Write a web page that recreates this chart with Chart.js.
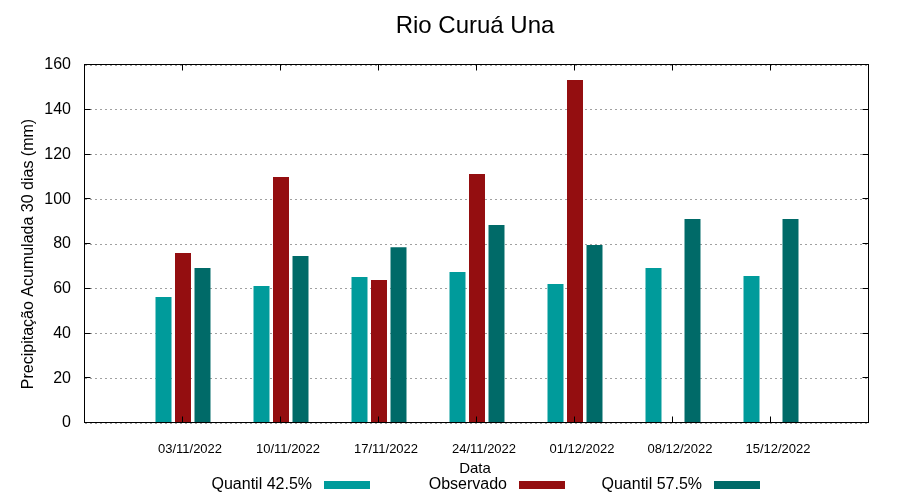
<!DOCTYPE html>
<html><head><meta charset="utf-8">
<script src="https://cdn.jsdelivr.net/npm/chart.js@4/dist/chart.umd.min.js"></script>
<style>html,body{margin:0;padding:0;background:#fff}#wrap{width:900px;height:500px}</style>
</head><body><div id="wrap"><canvas id="c" width="900" height="500"></canvas></div>
<script>
// ---- data ----
const chartTitle = 'Rio Curuá Una';
const xAxisTitle = 'Data';
const yAxisTitle = 'Precipitação Acumulada 30 dias (mm)';
const dates = ['03/11/2022','10/11/2022','17/11/2022','24/11/2022','01/12/2022','08/12/2022','15/12/2022'];
const quantil425 = [56.3, 61.2, 65.2, 67.5, 62.1, 69.3, 65.7];
const observado  = [76.0, 109.9, 63.9, 111.3, 153.3, null, null];
const quantil575 = [69.3, 74.6, 78.6, 88.5, 79.5, 91.2, 91.2];
const seriesNames = ['Quantil 42.5%', 'Observado', 'Quantil 57.5%'];
const yMin = 0, yMax = 160, yStep = 20;

// ---- styles ----
const FONT = '"Liberation Sans", Arial, sans-serif';
const colors = ['#009b9b', '#940e10', '#006a68'];

// pad categories with an empty slot on each side (gnuplot-like x range)
const pad = arr => [null, ...arr, null];
const labels = ['', ...dates, ''];

const framePlugin = {
  id: 'frame',
  afterDraw(chart) {
    const {ctx, chartArea: a, scales: {x, y}} = chart;
    const L = Math.round(a.left) - 0.5, R = Math.round(a.right) - 0.5;
    const T = Math.round(a.top) - 0.5, B = Math.round(a.bottom) - 0.5;
    ctx.save();
    ctx.strokeStyle = '#000';
    ctx.lineWidth = 1;
    ctx.setLineDash([]);
    ctx.strokeRect(L, T, R - L, B - T);
    // inward y ticks on both sides
    ctx.beginPath();
    for (let v = yMin + yStep; v < yMax; v += yStep) {
      const py = Math.round(y.getPixelForValue(v)) - 0.5;
      ctx.moveTo(L, py); ctx.lineTo(L + 6, py);
      ctx.moveTo(R, py); ctx.lineTo(R - 6, py);
    }
    // inward x ticks at top and bottom
    for (let i = 1; i <= dates.length; i++) {
      const px = Math.round(x.getPixelForValue(i)) - 0.5;
      ctx.moveTo(px, T); ctx.lineTo(px, T + 6);
      ctx.moveTo(px, B); ctx.lineTo(px, B - 6);
    }
    ctx.stroke();

    // title
    const cx = (a.left + a.right) / 2 - 2;
    ctx.fillStyle = '#000';
    ctx.textAlign = 'center';
    ctx.textBaseline = 'alphabetic';
    ctx.font = '24px ' + FONT;
    ctx.fillText(chartTitle, cx, 33);
    // x axis title
    ctx.font = '15px ' + FONT;
    ctx.fillText(xAxisTitle, cx, 473);
    // y axis title
    ctx.save();
    ctx.translate(33, 254);
    ctx.rotate(-Math.PI / 2);
    ctx.font = '16px ' + FONT;
    ctx.fillText(yAxisTitle, 0, 0);
    ctx.restore();

    // legend (gnuplot style: text, then sample to the right)
    const sampleLefts = [324, 519, 714];
    ctx.font = '16px ' + FONT;
    ctx.textAlign = 'right';
    chart.data.datasets.forEach((ds, i) => {
      const sx = sampleLefts[i];
      ctx.fillStyle = '#000';
      ctx.fillText(ds.label, sx - 12, 489);
      ctx.fillStyle = ds.backgroundColor;
      ctx.fillRect(sx, 481, 46, 8);
    });
    ctx.restore();
  }
};

const seriesValues = [quantil425, observado, quantil575];

new Chart(document.getElementById('c'), {
  type: 'bar',
  data: {
    labels: labels,
    datasets: seriesValues.map((vals, i) => ({
      label: seriesNames[i],
      data: pad(vals),
      backgroundColor: colors[i],
      borderWidth: 0,
      categoryPercentage: 0.597,
      barPercentage: 0.82
    }))
  },
  options: {
    responsive: false,
    animation: false,
    devicePixelRatio: 1,
    layout: {padding: {top: 65, right: 31, bottom: 0, left: 0}},
    plugins: {legend: {display: false}, title: {display: false}, tooltip: {enabled: false}},
    scales: {
      x: {
        type: 'category',
        offset: false,
        grid: {display: false, drawTicks: false},
        border: {display: false},
        ticks: {
          autoSkip: false, maxRotation: 0, minRotation: 0,
          padding: 19, labelOffset: 7,
          color: '#000', font: {family: FONT, size: 13}
        },
        afterFit(scale) { scale.height = 77; }
      },
      y: {
        min: yMin, max: yMax,
        grid: {color: '#a0a0a0', lineWidth: 1, drawTicks: false},
        border: {display: false, dash: [2, 3]},
        ticks: {stepSize: yStep, padding: 14, color: '#000', font: {family: FONT, size: 16}},
        afterFit(scale) { scale.width = 85; }
      }
    }
  },
  plugins: [framePlugin]
});
</script>
</body></html>
